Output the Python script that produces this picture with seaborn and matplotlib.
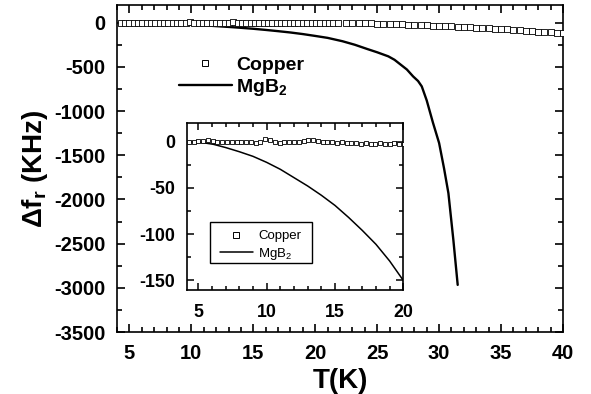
import matplotlib
matplotlib.use("Agg")
import matplotlib.pyplot as plt
import numpy as np
import pandas as pd
import seaborn as sns
from matplotlib.ticker import MultipleLocator
from matplotlib.lines import Line2D
from matplotlib.patches import Rectangle

# ---------------- data ----------------
cu_T_low = [4.3, 4.65, 5.0, 5.35, 5.7, 6.05, 6.4, 6.75, 7.1, 7.45, 7.8, 8.15, 8.5,
            8.85, 9.2, 9.55, 9.9, 10.25, 10.6, 10.95, 11.3, 11.65, 12.0, 12.35,
            12.7, 13.05, 13.4, 13.75, 14.1, 14.45, 14.8, 15.15, 15.5, 15.85, 16.2,
            16.55, 16.9, 17.25, 17.6, 17.95, 18.3, 18.65, 19.0, 19.35, 19.7, 20.05,
            20.4, 20.75, 21.1, 21.45, 21.8]
cu_df_low = [0, 0, 1, 1, 1.5, 1, 0, -1, -1, -1, -1, -0.5, -1,
             -0.5, -1.5, 0, 2.5, 1.5, 0, -1.5, -1, -0.5, -1, 0,
             0.5, 1.5, 2, 1, 0, -0.5, -1, -1.5, -1, -2, -2,
             -2, -2.5, -1.5, -2.5, -2.5, -2, -3, -2.5, -1.5, -2.5, -3,
             -3, -3.5, -4, -4, -4.5]
cu_T_high = [22.5, 23.0, 23.5, 24.0, 24.5, 25.0, 25.5, 26.0, 26.5, 27.0, 27.5, 28.0,
             28.5, 29.0, 29.5, 30.0, 30.5, 31.0, 31.5, 32.0, 32.5, 33.0, 33.5, 34.0,
             34.5, 35.0, 35.5, 36.0, 36.5, 37.0, 37.5, 38.0, 38.5, 39.0, 39.5, 40.0]
cu_df_high = [-4, -5, -6, -8, -9, -11, -13, -15, -17, -19, -21, -23,
              -26, -29, -32, -35, -38, -41, -44, -47, -51, -55, -59, -63,
              -67, -71, -76, -80, -85, -90, -95, -100, -105, -110, -116, -122]
mg_T = [4.3, 5.0, 6.1, 7.0, 8.0, 9.0, 10.0, 11.0, 12.0, 13.0, 14.0, 15.0, 16.0,
        17.0, 18.0, 19.0, 20.0, 21.0, 22.2, 23.2, 24.2, 25.0, 25.9, 26.4, 26.9,
        27.4, 27.9, 28.3, 28.6, 29.0, 29.5, 30.0, 30.4, 30.75, 31.15, 31.5]
mg_df = [0, -0.5, -3, -6.5, -11, -16, -22.5, -30, -39, -48, -58, -69, -82,
         -96, -111, -129, -150, -172, -210, -250, -298, -335, -381, -420, -475,
         -530, -608, -660, -721, -880, -1130, -1362, -1650, -1929, -2458, -2967]

main_xticks = [5, 10, 15, 20, 25, 30, 35, 40]
main_yticks = [0, -500, -1000, -1500, -2000, -2500, -3000, -3500]
inset_xticks = [5, 10, 15, 20]
inset_yticks = [0, -50, -100, -150]
series_names = ["Copper", "MgB$_\\mathregular{2}$"]

# ---------------- style ----------------
sns.set_style("ticks")
plt.rcParams["font.family"] = ["Liberation Sans", "DejaVu Sans"]
plt.rcParams["mathtext.fontset"] = "custom"
plt.rcParams["mathtext.rm"] = "Liberation Sans"
plt.rcParams["axes.unicode_minus"] = False
for key in ["text.color", "axes.labelcolor", "xtick.color", "ytick.color",
            "axes.edgecolor", "xtick.labelcolor", "ytick.labelcolor"]:
    plt.rcParams[key] = "black"
plt.rcParams["axes.linewidth"] = 1.2

cu_main = pd.DataFrame({"T": cu_T_low + cu_T_high, "df": cu_df_low + cu_df_high})
cu_inset = pd.DataFrame({"T": cu_T_low, "df": cu_df_low})
mg = pd.DataFrame({"T": mg_T, "df": mg_df})

fig = plt.figure(figsize=(5.91, 3.94), dpi=100)

# ---------------- main axes ----------------
ax = fig.add_axes([117 / 591, 1 - 332 / 394, (563 - 117) / 591, (332 - 5) / 394])
sns.lineplot(data=mg, x="T", y="df", ax=ax, color="black", lw=1.7, sort=False,
             legend=False, zorder=2)
sns.scatterplot(data=cu_main, x="T", y="df", ax=ax, marker="s", s=16,
                facecolor="white", edgecolor="black", linewidth=0.6,
                legend=False, zorder=3)
ax.set_xlim(4, 40)
ax.set_ylim(-3500, 200)
ax.set_xticks(main_xticks)
ax.set_yticks(main_yticks)
ax.xaxis.set_minor_locator(MultipleLocator(1))
ax.yaxis.set_minor_locator(MultipleLocator(250))
ax.tick_params(which="both", direction="in", top=True, right=True,
               width=1.2, color="black")
ax.tick_params(which="major", length=6)
ax.tick_params(which="minor", length=3.5)
ax.tick_params(axis="x", which="major", pad=8.5, labelsize=14.5)
ax.tick_params(axis="y", which="major", pad=8.5, labelsize=14.5)
for lab in ax.get_xticklabels() + ax.get_yticklabels():
    lab.set_fontweight("bold")
ax.set_xlabel("T(K)", fontsize=20, fontweight="bold", labelpad=4)
ax.set_ylabel("\u0394f$_\\mathregular{r}$ (KHz)", fontsize=20,
              fontweight="bold", labelpad=3)

h_cu = Line2D([], [], ls="none", marker="s", markersize=4.6, markerfacecolor="white",
              markeredgecolor="black", markeredgewidth=0.7)
h_mg = Line2D([], [], color="black", lw=1.7)
ax.legend([h_cu, h_mg], series_names, loc="upper left",
          bbox_to_anchor=(179 / 591, 1 - 56 / 394), bbox_transform=fig.transFigure,
          frameon=False, borderpad=0, borderaxespad=0, handlelength=2.7,
          handletextpad=0.25, labelspacing=0.15,
          prop={"weight": "bold", "size": 14})

# ---------------- inset axes ----------------
ax2 = fig.add_axes([186.7 / 591, 1 - 289.7 / 394, (403.3 - 186.7) / 591,
                    (289.7 - 123) / 394])
sns.lineplot(data=mg, x="T", y="df", ax=ax2, color="black", lw=1.1, sort=False,
             legend=False, zorder=2)
sns.scatterplot(data=cu_inset, x="T", y="df", ax=ax2, marker="s", s=12,
                facecolor="white", edgecolor="black", linewidth=0.6,
                legend=False, zorder=3)
ax2.set_xlim(4.15, 20)
ax2.set_ylim(-160, 20)
ax2.set_xticks(inset_xticks)
ax2.set_yticks(inset_yticks)
ax2.xaxis.set_minor_locator(MultipleLocator(1))
ax2.yaxis.set_minor_locator(MultipleLocator(25))
ax2.tick_params(which="both", direction="in", top=True, right=True,
                width=1.1, color="black")
ax2.tick_params(which="major", length=5)
ax2.tick_params(which="minor", length=3)
ax2.tick_params(axis="x", which="major", pad=10, labelsize=12.8)
ax2.tick_params(axis="y", which="major", pad=8.5, labelsize=12.8)
for lab in ax2.get_xticklabels() + ax2.get_yticklabels():
    lab.set_fontweight("bold")
ax2.set_xlabel("")
ax2.set_ylabel("")

# inset legend: frame box + entries
fig.add_artist(Rectangle((210 / 591, 1 - 263 / 394), (312 - 210) / 591,
                         (263 - 221.7) / 394, transform=fig.transFigure,
                         facecolor="white", edgecolor="black", lw=1.0, zorder=5))
h_cu2 = Line2D([], [], ls="none", marker="s", markersize=4.5, markerfacecolor="white",
               markeredgecolor="black", markeredgewidth=0.7)
h_mg2 = Line2D([], [], color="black", lw=1.1)
leg2 = fig.legend([h_cu2, h_mg2], series_names, loc="upper left",
                  bbox_to_anchor=(220 / 591, 1 - 230 / 394),
                  bbox_transform=fig.transFigure, frameon=False, borderpad=0,
                  borderaxespad=0, handlelength=2.5, handletextpad=0.38,
                  labelspacing=0.29, prop={"size": 9.5})
leg2.set_zorder(6)

fig.savefig("out.png", dpi=100)
